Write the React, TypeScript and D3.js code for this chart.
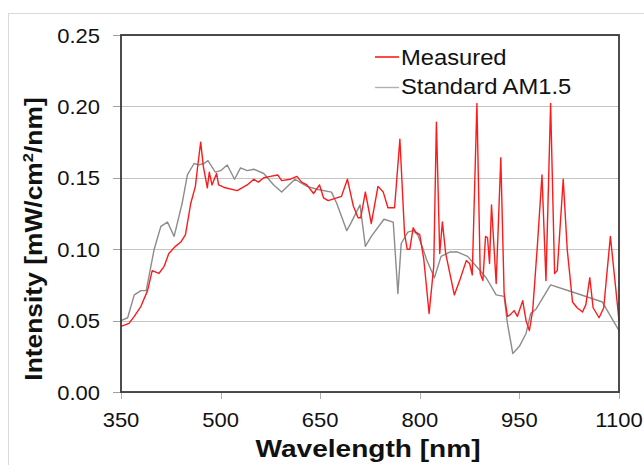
import React from "react";
import * as d3 from "d3";

const measuredWl = [350,362,370,380,390,397,407,415,422,432,440,447,455,462,466,470,474,480,483,487,494,497,507,525,540,550,557,565,575,586,592,605,615,622,630,640,649,655,662,682,691,700,707,711,718,727,737,745,752,762,770,777,781,785,787,790,794,800,806,814,821,825,830,834,839,852,860,870,875,879,886,891,895,899,902,905,908,915,922,927,932,936,942,947,955,960,965,970,977,984,990,997,1003,1007,1016,1022,1030,1037,1045,1050,1056,1061,1070,1077,1087,1095,1100];
const measuredVal = [0.046,0.048,0.053,0.060,0.071,0.085,0.083,0.088,0.097,0.102,0.105,0.110,0.132,0.144,0.160,0.175,0.158,0.143,0.154,0.145,0.153,0.145,0.143,0.141,0.145,0.149,0.147,0.150,0.151,0.152,0.148,0.149,0.151,0.147,0.145,0.139,0.145,0.136,0.134,0.137,0.149,0.130,0.122,0.122,0.140,0.118,0.144,0.140,0.129,0.129,0.177,0.111,0.100,0.100,0.106,0.115,0.112,0.110,0.093,0.055,0.088,0.189,0.097,0.119,0.097,0.068,0.078,0.092,0.090,0.082,0.202,0.083,0.078,0.109,0.108,0.090,0.131,0.076,0.164,0.069,0.053,0.054,0.057,0.053,0.064,0.050,0.043,0.057,0.102,0.152,0.078,0.202,0.083,0.085,0.149,0.100,0.063,0.059,0.056,0.061,0.080,0.059,0.052,0.059,0.109,0.073,0.050];

const standardWl = [350,360,370,380,388,395,400,410,420,430,442,450,460,467,475,481,492,500,510,521,530,540,550,565,580,592,612,630,645,667,675,690,697,710,718,727,746,760,767,772,782,790,797,805,810,822,832,845,857,872,887,900,915,927,932,940,950,960,967,975,997,1030,1075,1100];
const standardVal = [0.050,0.052,0.068,0.071,0.071,0.088,0.100,0.116,0.119,0.109,0.132,0.152,0.160,0.159,0.160,0.162,0.154,0.155,0.159,0.149,0.157,0.155,0.156,0.153,0.145,0.140,0.149,0.144,0.142,0.140,0.132,0.113,0.119,0.131,0.102,0.109,0.121,0.119,0.069,0.104,0.112,0.113,0.110,0.100,0.093,0.080,0.095,0.098,0.098,0.095,0.087,0.080,0.068,0.067,0.048,0.027,0.032,0.041,0.055,0.058,0.075,0.070,0.063,0.043];

const xTicks = [350, 500, 650, 800, 950, 1100];
const yTicks = [0, 0.05, 0.1, 0.15, 0.2, 0.25];
const seriesNames = ["Measured", "Standard AM1.5"];

const W = 644, H = 465;
const left = 121, right = 619, top = 35, bottom = 392;
const FONT = "'Liberation Sans', Arial, sans-serif";

export default function App() {
  const x = d3.scaleLinear().domain([350, 1100]).range([left, right]);
  const y = d3.scaleLinear().domain([0, 0.25]).range([bottom, top]);
  const line = d3.line<[number, number]>().x(d => x(d[0])).y(d => y(d[1]));
  const measured = measuredWl.map((w, i) => [w, measuredVal[i]] as [number, number]);
  const standard = standardWl.map((w, i) => [w, standardVal[i]] as [number, number]);
  const textColor = "#111";
  return (
    <svg width={W} height={H} style={{ position: "fixed", left: 0, top: 0, background: "#fff" }}>
      <rect x={8.5} y={13.5} width={700} height={500} fill="#fff" stroke="#d9d9d9" strokeWidth={1} />
      {yTicks.map(t => (
        <g key={"y" + t}>
          <line x1={left} x2={right} y1={Math.round(y(t)) + 0.5} y2={Math.round(y(t)) + 0.5} stroke="#c4c4c4" strokeWidth={1} />
          <line x1={left - 8} x2={left} y1={Math.round(y(t)) + 0.5} y2={Math.round(y(t)) + 0.5} stroke="#a0a0a0" strokeWidth={1} />
          <text transform={`translate(100,${y(t) + 7.5}) scale(1.1,1)`} textAnchor="end" fontFamily={FONT} fontSize={20} fill={textColor}>
            {d3.format(".2f")(t)}
          </text>
        </g>
      ))}
      {xTicks.map(t => (
        <g key={"x" + t}>
          <line x1={Math.round(x(t)) + 0.5} x2={Math.round(x(t)) + 0.5} y1={bottom} y2={bottom + 7} stroke="#b0b0b0" strokeWidth={1} />
          <text transform={`translate(${x(t)},427) scale(1.1,1)`} textAnchor="middle" fontFamily={FONT} fontSize={20} fill={textColor}>
            {t}
          </text>
        </g>
      ))}
      <path d={line(standard) || ""} fill="none" stroke="#8c8c8c" strokeWidth={1.4} strokeLinejoin="round" />
      <path d={line(measured) || ""} fill="none" stroke="#ff1a1a" strokeWidth={1.4} strokeLinejoin="round" />
      <rect x={left} y={top} width={right - left} height={bottom - top} fill="none" stroke="#3a3a3a" strokeWidth={1.8} />
      {/* legend */}
      <line x1={375} x2={399} y1={57} y2={57} stroke="#ff1a1a" strokeWidth={1.6} />
      <text transform="translate(401,65) scale(1.08,1)" fontFamily={FONT} fontSize={22} fill={textColor}>{seriesNames[0]}</text>
      <line x1={375} x2={399} y1={87.5} y2={87.5} stroke="#b0b0b0" strokeWidth={1.4} />
      <text transform="translate(401,94) scale(1.08,1)" fontFamily={FONT} fontSize={22} fill={textColor}>{seriesNames[1]}</text>
      {/* axis titles */}
      <text transform="translate(368,457) scale(1.17,1)" textAnchor="middle" fontFamily={FONT} fontSize={24} fontWeight="bold" fill={textColor}>
        Wavelength [nm]
      </text>
      <text transform="translate(41.5,239) rotate(-90) scale(1.1,1)" textAnchor="middle" fontFamily={FONT} fontSize={24} fontWeight="bold" fill={textColor}>
        Intensity [mW/cm<tspan dy={-9} fontSize={15}>2</tspan><tspan dy={9}>/nm]</tspan>
      </text>
    </svg>
  );
}
